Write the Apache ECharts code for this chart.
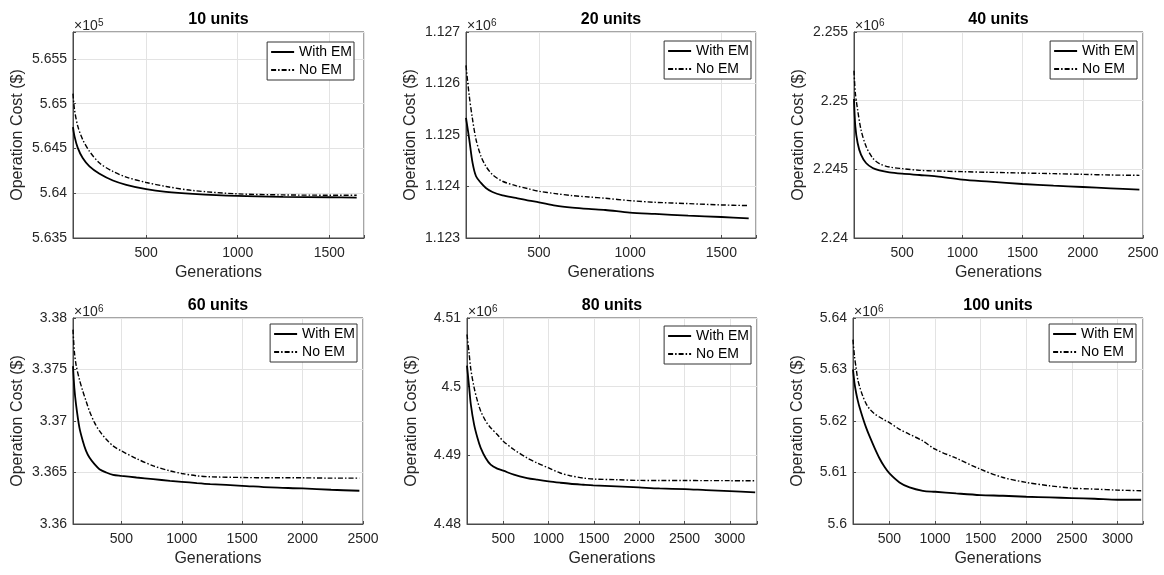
<!DOCTYPE html>
<html><head><meta charset="utf-8">
<script src="https://cdn.jsdelivr.net/npm/echarts@6/dist/echarts.min.js"></script>
<style>html,body{margin:0;padding:0;background:#fff}#c{width:1164px;height:575px}</style>
</head><body><div id="c"></div>
<script>
// ---------- data ----------
const titles = ['10 units', '20 units', '40 units', '60 units', '80 units', '100 units'];
const exponents = [5, 6, 6, 6, 6, 6];
const seriesNames = ['With EM', 'No EM'];
const xLabel = 'Generations';
const yLabel = 'Operation Cost ($)';

const gens1 = [100,108,126,153,190,245,318,391,500,609,755,998,1248,1500,1650];
const withEM1 = [564738,564637,564506,564393,564300,564217,564142,564094,564045,564015,563993,563970,563959,563955,563951];
const noEM1   = [565112,564936,564749,564599,564468,564337,564243,564180,564120,564075,564030,563993,563981,563978,563978];

const gens2 = [100,118,136,155,182,209,245,300,373,445,500,591,682,773,864,998,1136,1318,1500,1650];
const withEM2 = [1125333,1124912,1124458,1124199,1124069,1123972,1123894,1123830,1123778,1123726,1123693,1123629,1123590,1123564,1123544,1123493,1123467,1123434,1123408,1123382];
const noEM2   = [1126351,1125754,1125301,1124912,1124588,1124393,1124231,1124102,1124017,1123953,1123907,1123862,1123823,1123797,1123771,1123726,1123693,1123668,1123642,1123629];

const gens3 = [100,111,130,158,200,255,311,394,500,645,784,998,1229,1499,1757,1999,2230,2470];
const withEM3 = [2250121,2248131,2246917,2246068,2245461,2245097,2244927,2244782,2244684,2244587,2244490,2244248,2244102,2243932,2243811,2243714,2243617,2243519];
const noEM3   = [2252184,2250558,2249344,2247888,2246675,2245825,2245412,2245170,2245048,2244927,2244879,2244830,2244782,2244733,2244684,2244636,2244587,2244563];

const gens4 = [100,111,125,153,181,208,236,278,319,375,431,500,625,764,903,1000,1125,1236,1500,1736,2000,2236,2470];
const withEM4 = [3375323,3373226,3371613,3369355,3368065,3367097,3366452,3365806,3365323,3365000,3364774,3364677,3364516,3364355,3364194,3364097,3363968,3363871,3363710,3363548,3363452,3363323,3363226];
const noEM4   = [3378871,3376774,3375484,3374032,3372903,3371935,3370968,3369839,3369032,3368226,3367581,3367097,3366355,3365645,3365161,3364903,3364677,3364581,3364516,3364484,3364484,3364452,3364452];

const gens5 = [100,124,142,178,215,251,306,361,434,500,617,763,873,1001,1129,1238,1385,1494,1750,1995,2225,2503,2737,3000,3280];
const withEM5 = [4503058,4499883,4497440,4494509,4492555,4491089,4489624,4488647,4488061,4487767,4487181,4486693,4486448,4486204,4486009,4485862,4485716,4485618,4485471,4485325,4485178,4485081,4484934,4484787,4484592];
const noEM5   = [4507600,4504767,4502569,4499883,4497928,4496463,4494997,4494020,4493043,4492066,4490845,4489624,4488891,4488158,4487425,4487034,4486693,4486546,4486448,4486351,4486340,4486330,4486320,4486310,4486300];

const gens6 = [100,116,134,152,171,207,244,280,335,390,445,500,610,720,866,1001,1232,1496,1744,2001,2257,2499,2751,3000,3260];
const withEM6 = [5630000,5627419,5625484,5624000,5622710,5620645,5618710,5617097,5614839,5612774,5611097,5609806,5608065,5607097,5606452,5606258,5605935,5605613,5605484,5605290,5605161,5605032,5604903,5604710,5604710];
const noEM6   = [5635806,5632581,5630323,5628065,5626774,5624839,5623355,5622387,5621419,5620774,5620194,5619677,5618387,5617419,5616129,5614516,5612774,5610645,5609032,5608065,5607419,5606968,5606774,5606581,5606452];

const xMin = [100, 100, 100, 100, 100, 100];
const xMax = [1690, 1690, 2500, 2500, 3300, 3280];
const xStep = [500, 500, 500, 500, 500, 500];
const yMin = [563500, 1123000, 2240000, 3360000, 4480000, 5600000];
const yMax = [565800, 1127000, 2255000, 3380000, 4510000, 5640000];
const yStep = [500, 1000, 5000, 5000, 10000, 10000];

const gens = [gens1, gens2, gens3, gens4, gens5, gens6];
const withEM = [withEM1, withEM2, withEM3, withEM4, withEM5, withEM6];
const noEM = [noEM1, noEM2, noEM3, noEM4, noEM5, noEM6];

// ---------- layout ----------
const boxes = [
  {left: 73,  top: 32,  width: 291, height: 206},
  {left: 466, top: 32,  width: 290, height: 206},
  {left: 854, top: 32,  width: 289, height: 206},
  {left: 73,  top: 318, width: 290, height: 206},
  {left: 467, top: 318, width: 290, height: 206},
  {left: 853, top: 318, width: 290, height: 206}
];
const legendPos = [
  {right: 1164 - 354, top: 42},
  {right: 1164 - 751, top: 41},
  {right: 1164 - 1137, top: 41},
  {right: 1164 - 357, top: 324},
  {right: 1164 - 751, top: 326},
  {right: 1164 - 1136, top: 324}
];

const FONT = '"Liberation Sans", Arial, Helvetica, sans-serif';
const TXT = '#262626';
const AX = '#4a4a4a';
const GRIDC = '#e3e3e3';
const dashDot = [5, 2, 1.5, 2];

function fmtY(v, e) {
  return String(Number((v / Math.pow(10, e)).toFixed(5)));
}

const grid = [], xAxis = [], yAxis = [], series = [], legend = [], graphic = [];
for (let i = 0; i < 6; i++) {
  const b = boxes[i];
  grid.push({left: b.left, top: b.top, width: b.width, height: b.height,
    show: true, borderColor: AX, borderWidth: 1, containLabel: false});
  const xs = xStep[i];
  xAxis.push({
    type: 'value', gridIndex: i, min: xMin[i], max: xMax[i],
    minInterval: xs, maxInterval: xs, splitNumber: 4,
    name: xLabel, nameLocation: 'middle', nameGap: 27,
    nameTextStyle: {fontFamily: FONT, fontSize: 16, color: TXT},
    axisLine: {show: true, lineStyle: {color: AX, width: 1}},
    axisTick: {show: true, inside: true, length: 3, lineStyle: {color: AX}},
    axisLabel: {fontFamily: FONT, fontSize: 14, color: TXT, margin: 8,
      formatter: v => (Math.abs(v % xs) < 1e-6 ? String(v) : '')},
    splitLine: {show: true, lineStyle: {color: GRIDC, width: 1}}
  });
  const ys = yStep[i], e = exponents[i], ymn = yMin[i];
  yAxis.push({
    type: 'value', gridIndex: i, min: ymn, max: yMax[i], interval: ys,
    name: yLabel, nameLocation: 'middle', nameGap: 47,
    nameTextStyle: {fontFamily: FONT, fontSize: 16, color: TXT},
    axisLine: {show: true, lineStyle: {color: AX, width: 1}},
    axisTick: {show: true, inside: true, length: 3, lineStyle: {color: AX}},
    axisLabel: {fontFamily: FONT, fontSize: 14, color: TXT, margin: 6,
      formatter: v => (Math.abs(((v - ymn) / ys) - Math.round((v - ymn) / ys)) < 1e-6 ? fmtY(v, e) : '')},
    splitLine: {show: true, lineStyle: {color: GRIDC, width: 1}}
  });
  series.push({
    name: seriesNames[0], type: 'line', xAxisIndex: i, yAxisIndex: i,
    data: gens[i].map((g, k) => [g, withEM[i][k]]),
    symbol: 'none', showSymbol: false, smooth: 0.3,
    itemStyle: {color: '#000', opacity: 0},
    lineStyle: {color: '#000', width: 1.8, type: 'solid', opacity: 1}, silent: true, z: 3
  });
  series.push({
    name: seriesNames[1], type: 'line', xAxisIndex: i, yAxisIndex: i,
    data: gens[i].map((g, k) => [g, noEM[i][k]]),
    symbol: 'none', showSymbol: false, smooth: 0.3,
    itemStyle: {color: '#000', opacity: 0},
    lineStyle: {color: '#000', width: 1.4, type: dashDot, opacity: 1}, silent: true, z: 3
  });
  legend.push(Object.assign({
    data: seriesNames, orient: 'vertical', itemWidth: 23, itemHeight: 14, itemGap: 4,
    padding: [3, 2, 3, 3], borderColor: '#333', borderWidth: 1, backgroundColor: '#fff',
    selectedMode: false,
    itemStyle: {opacity: 0},
    lineStyle: {opacity: 1},
    textStyle: {fontFamily: FONT, fontSize: 14, color: '#000'}
  }, legendPos[i]));
  // title
  graphic.push({type: 'text', x: b.left + b.width / 2, y: b.top - 12, silent: true,
    style: {text: titles[i], fill: '#000', font: 'bold 16px ' + FONT, align: 'center', verticalAlign: 'middle'}});
  // exponent
  graphic.push({type: 'text', x: b.left + 1, y: b.top + 1, silent: true,
    style: {text: '\u00d710', fill: TXT, font: '14px ' + FONT, align: 'left', verticalAlign: 'bottom'}});
  graphic.push({type: 'text', x: b.left + 25, y: b.top - 4, silent: true,
    style: {text: String(e), fill: TXT, font: '10px ' + FONT, align: 'left', verticalAlign: 'bottom'}});
}

const chart = echarts.init(document.getElementById('c'), null, {renderer: 'canvas'});
chart.setOption({
  animation: false,
  backgroundColor: '#fff',
  grid, xAxis, yAxis, series, legend, graphic
});
</script>
</body></html>
